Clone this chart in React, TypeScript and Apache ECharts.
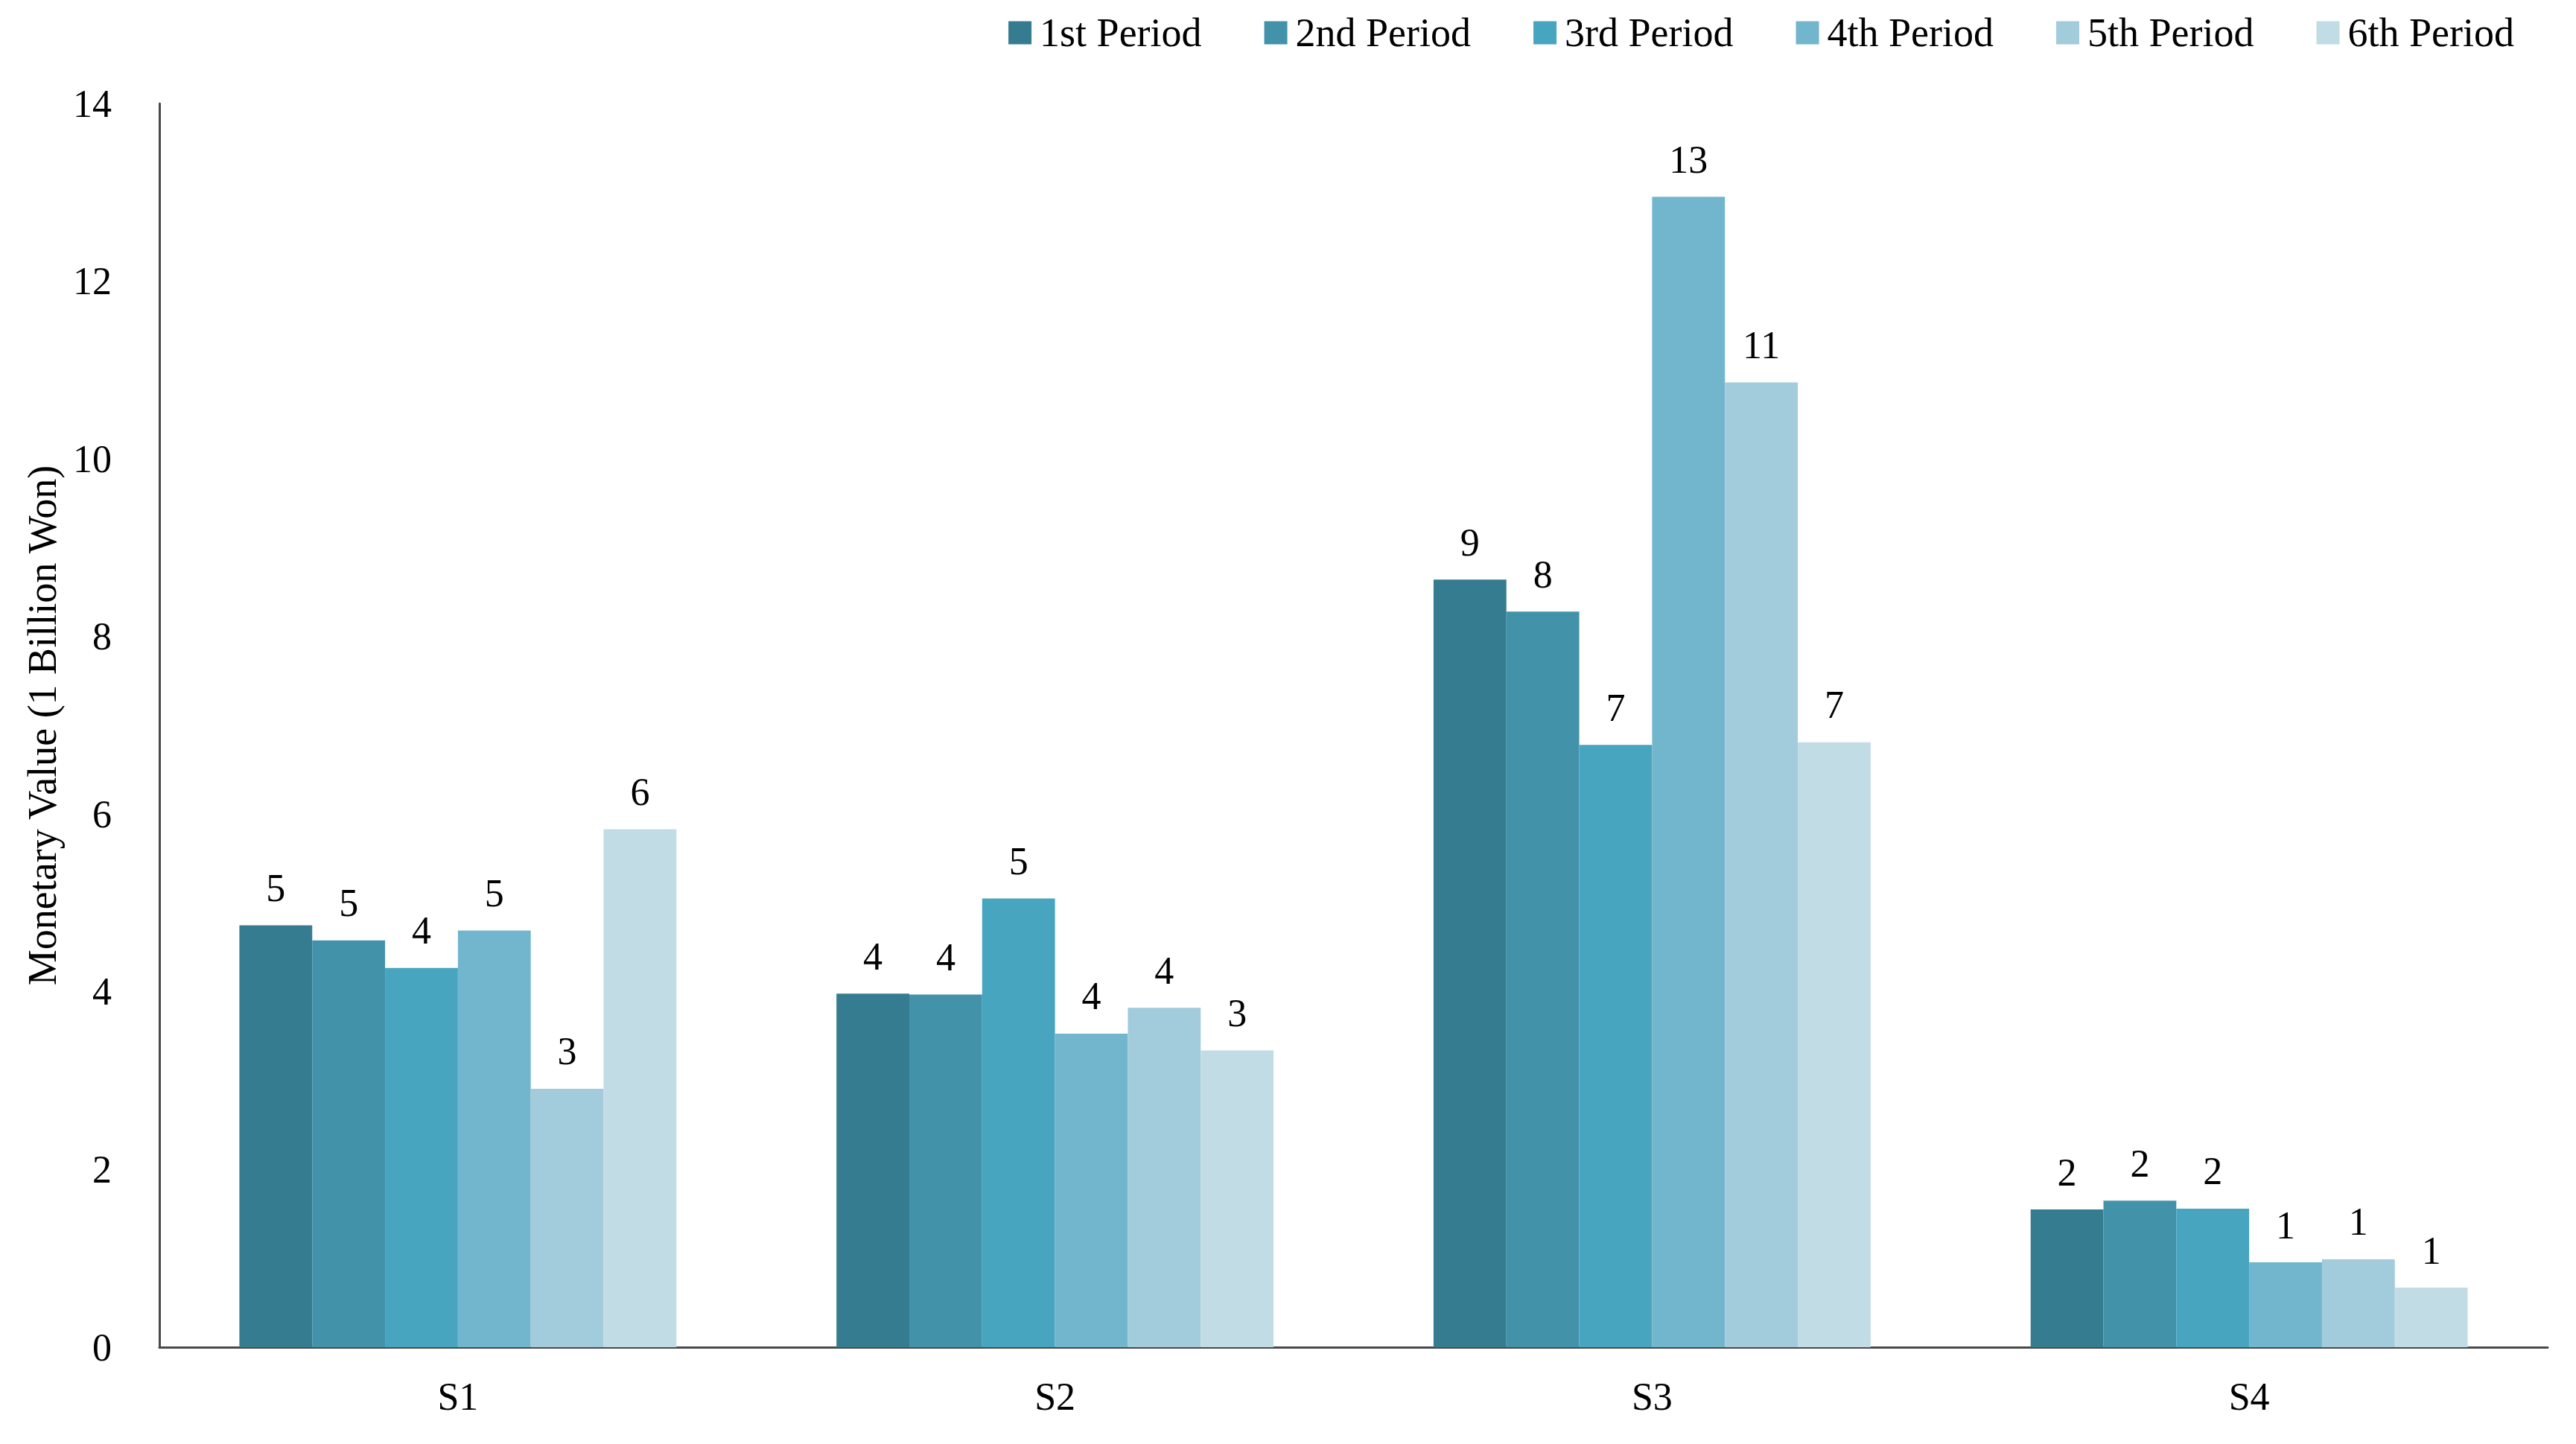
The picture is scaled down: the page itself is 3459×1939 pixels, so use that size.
import React, { useEffect, useRef } from "react";
import * as echarts from "echarts";

const categories = ["S1", "S2", "S3", "S4"];
const periodNames = ["1st Period", "2nd Period", "3rd Period", "4th Period", "5th Period", "6th Period"];
const period1 = [4.75, 3.98, 8.64, 1.55];
const period2 = [4.58, 3.97, 8.28, 1.65];
const period3 = [4.27, 5.05, 6.78, 1.56];
const period4 = [4.69, 3.53, 12.95, 0.955];
const period5 = [2.91, 3.82, 10.86, 0.99];
const period6 = [5.83, 3.34, 6.81, 0.67];
const periodValues = [period1, period2, period3, period4, period5, period6];
const colors = ["#367C90", "#4292AA", "#48A5BF", "#72B6CE", "#A2CBDC", "#C2DCE5"];
const yTicks = { min: 0, max: 14, interval: 2 };

const FONT = "'Palatino Linotype', 'Book Antiqua', Palatino, 'Liberation Serif', serif";

export default function App() {
  const ref = useRef<HTMLDivElement>(null);
  useEffect(() => {
    if (!ref.current) return;
    const chart = echarts.init(ref.current, null, { renderer: "svg" });
    chart.setOption({
      animation: false,
      backgroundColor: "#ffffff",
      textStyle: { fontFamily: FONT },
      legend: {
        data: periodNames,
        right: 78,
        top: 12,
        itemWidth: 31,
        itemHeight: 31,
        itemGap: 84,
        icon: "rect",
        textStyle: { fontFamily: FONT, fontSize: 54, color: "#000", padding: [0, 0, 0, 6] },
      },
      grid: { left: 214, right: 38, top: 139, bottom: 130, containLabel: false },
      xAxis: {
        type: "category",
        data: categories,
        axisLine: { show: true, lineStyle: { color: "#4a4a4a", width: 3 } },
        axisTick: { show: false },
        axisLabel: { fontFamily: FONT, fontSize: 52, color: "#000", margin: 40 },
        splitLine: { show: false },
      },
      yAxis: {
        type: "value",
        min: yTicks.min,
        max: yTicks.max,
        interval: yTicks.interval,
        name: "Monetary Value (1 Billion Won)",
        nameLocation: "middle",
        nameGap: 130,
        nameTextStyle: { fontFamily: FONT, fontSize: 54, color: "#000" },
        axisLine: { show: true, lineStyle: { color: "#4a4a4a", width: 3 } },
        axisTick: { show: false },
        axisLabel: { fontFamily: FONT, fontSize: 52, color: "#000", margin: 64 },
        splitLine: { show: false },
      },
      series: periodNames.map((name, i) => ({
        name,
        type: "bar",
        data: periodValues[i],
        barGap: "0%",
        barCategoryGap: "26.8%",
        itemStyle: { color: colors[i] },
        label: {
          show: true,
          position: "top",
          distance: 24,
          fontFamily: FONT,
          fontSize: 52,
          color: "#000",
          formatter: (p: any) => String(Math.round(p.value)),
        },
      })),
    });
    return () => chart.dispose();
  }, []);
  return (
    <div
      ref={ref}
      style={{ position: "absolute", left: 0, top: 0, width: 3459, height: 1939 }}
    />
  );
}
